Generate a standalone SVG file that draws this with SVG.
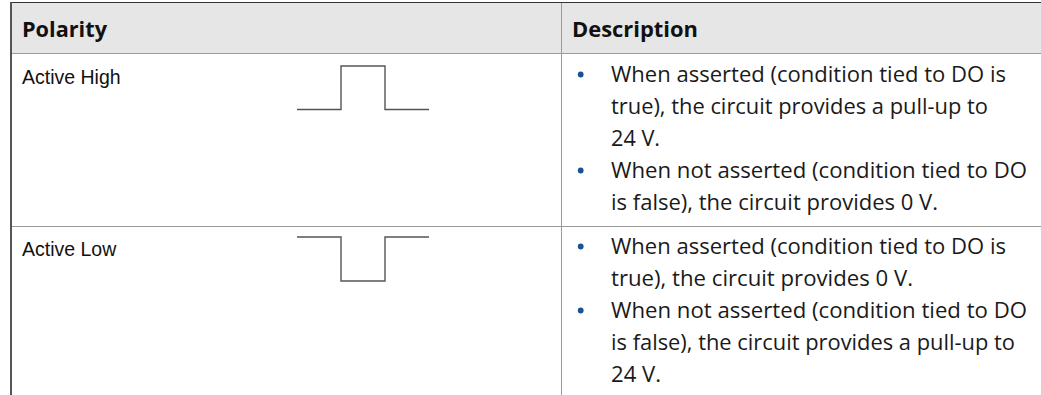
<svg xmlns="http://www.w3.org/2000/svg" width="1041" height="395" viewBox="0 0 1041 395">
  <style>
    .hdr { font-family: "Open Sans", "Noto Sans", sans-serif; font-weight: bold; font-size: 21px; fill: #111; }
    .pol { font-family: "Liberation Sans", Arial, sans-serif; font-size: 19.5px; fill: #111; }
    .desc { font-family: "Open Sans", "Noto Sans", sans-serif; font-size: 22px; fill: #1a1a1a; }
    .grid { stroke: #9a9a9a; stroke-width: 1; fill: none; }
    .wave { stroke: #555; stroke-width: 1.4; fill: none; }
    .bullet { fill: #1b5296; }
  </style>
  <rect x="0" y="0" width="1041" height="395" fill="#ffffff"/>
  <g id="table">
    <rect x="11" y="3" width="1030" height="50.5" fill="#e6e6e6"/>
    <line class="grid" x1="11" y1="53.5" x2="1041" y2="53.5"/>
    <line class="grid" x1="11" y1="226.5" x2="1041" y2="226.5"/>
    <line class="grid" x1="561.5" y1="3" x2="561.5" y2="395"/>
    <line x1="10" y1="2.5" x2="1041" y2="2.5" stroke="#333" stroke-width="1"/>
    <line x1="11" y1="2" x2="11" y2="395" stroke="#555" stroke-width="2"/>
  </g>
  <g id="header">
    <text class="hdr" x="22" y="37" textLength="85" lengthAdjust="spacingAndGlyphs">Polarity</text>
    <text class="hdr" x="572" y="37" textLength="126" lengthAdjust="spacingAndGlyphs">Description</text>
  </g>
  <g id="row-active-high">
    <text class="pol" x="22" y="83.5">Active High</text>
    <polyline class="wave" points="297,109.5 341,109.5 341,66 385,66 385,109.5 429,109.5"/>
    <circle class="bullet" cx="580.7" cy="74.5" r="2.9"/>
    <circle class="bullet" cx="580.7" cy="170.5" r="2.9"/>
    <text class="desc" x="611" y="82" textLength="395" lengthAdjust="spacingAndGlyphs">When asserted (condition tied to DO is</text>
    <text class="desc" x="611" y="114" textLength="377" lengthAdjust="spacingAndGlyphs">true), the circuit provides a pull-up to</text>
    <text class="desc" x="611" y="146" textLength="49" lengthAdjust="spacingAndGlyphs">24 V.</text>
    <text class="desc" x="611" y="178" textLength="416" lengthAdjust="spacingAndGlyphs">When not asserted (condition tied to DO</text>
    <text class="desc" x="611" y="210" textLength="327" lengthAdjust="spacingAndGlyphs">is false), the circuit provides 0 V.</text>
  </g>
  <g id="row-active-low">
    <text class="pol" x="22" y="256">Active Low</text>
    <polyline class="wave" points="297,237 341,237 341,281 385,281 385,237 429,237"/>
    <circle class="bullet" cx="580.7" cy="246.5" r="2.9"/>
    <circle class="bullet" cx="580.7" cy="310.5" r="2.9"/>
    <text class="desc" x="611" y="254" textLength="395" lengthAdjust="spacingAndGlyphs">When asserted (condition tied to DO is</text>
    <text class="desc" x="611" y="286" textLength="302" lengthAdjust="spacingAndGlyphs">true), the circuit provides 0 V.</text>
    <text class="desc" x="611" y="318" textLength="416" lengthAdjust="spacingAndGlyphs">When not asserted (condition tied to DO</text>
    <text class="desc" x="611" y="350" textLength="404" lengthAdjust="spacingAndGlyphs">is false), the circuit provides a pull-up to</text>
    <text class="desc" x="611" y="382" textLength="50" lengthAdjust="spacingAndGlyphs">24 V.</text>
  </g>
</svg>
